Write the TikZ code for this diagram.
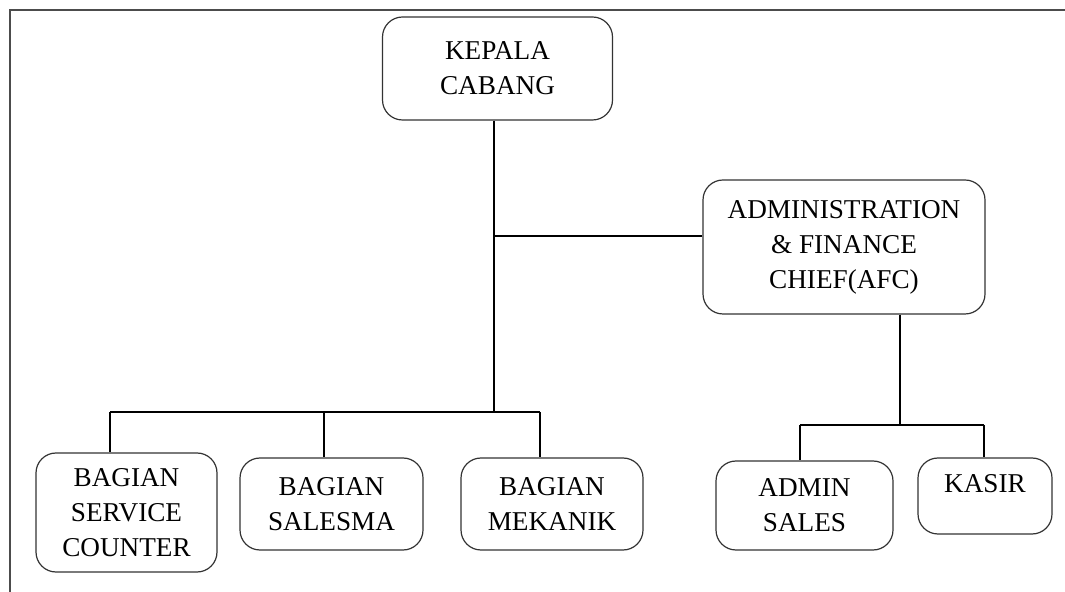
\documentclass[tikz,border=0pt]{standalone}
\usepackage{fontspec}
\setmainfont{Liberation Serif}
\usetikzlibrary{calc, positioning}

\begin{document}
\begin{tikzpicture}[
    x=0.5pt, y=-0.5pt,
    line width=0.6pt,
    font=\fontsize{13.6}{17.5}\selectfont,
    unitbox/.style={draw=black!80, rounded corners=10pt, align=center, inner sep=0pt}
]

    % Page size and frame
    \useasboundingbox (0, 0) rectangle (1065, 592);
    \draw[black!70] (10, 592) -- (10, 10) -- (1065, 10);

    % Top level
    \node[unitbox, minimum width=115pt, minimum height=51.5pt] (kepala) at (497.5, 68.5) {KEPALA\\CABANG};
    \node[unitbox, minimum width=141pt, minimum height=67pt] (afc) at (844, 247) {ADMINISTRATION\\\& FINANCE\\CHIEF(AFC)};

    % Bottom level (left group)
    \node[unitbox, minimum width=90.5pt, minimum height=59.5pt] (service) at (126.5, 512.5) {BAGIAN\\SERVICE\\COUNTER};
    \node[unitbox, minimum width=91.5pt, minimum height=46pt] (salesma) at (331.5, 504) {BAGIAN\\SALESMA};
    \node[unitbox, minimum width=91pt, minimum height=46pt] (mekanik) at (552, 504) {BAGIAN\\MEKANIK};

    % Bottom level (right group)
    \node[unitbox, minimum width=88.5pt, minimum height=44.5pt] (admin) at (804.5, 505.5) {ADMIN\\SALES};
    \node[unitbox, minimum width=67pt, minimum height=38pt] (kasir) at (985, 496) {KASIR\\[-5pt]\mbox{}};

    % Junction points
    \coordinate (trunk) at (494, 412);
    \coordinate (side) at (494, 236);
    \coordinate (dropA) at (110, 412);
    \coordinate (dropB) at (324, 412);
    \coordinate (dropC) at (540, 412);
    \coordinate (afcdrop) at (900, 425);
    \coordinate (dropD) at (800, 425);
    \coordinate (dropE) at (984, 425);

    % Connectors
    \draw (kepala.south -| trunk) -- (trunk);
    \draw (side) -- (side -| afc.west);
    \draw (dropA) -- (dropC);
    \draw (dropA) -- (dropA |- service.north);
    \draw (dropB) -- (dropB |- salesma.north);
    \draw (dropC) -- (dropC |- mekanik.north);

    \draw (afc.south -| afcdrop) -- (afcdrop);
    \draw (dropD) -- (dropE);
    \draw (dropD) -- (dropD |- admin.north);
    \draw (dropE) -- (dropE |- kasir.north);

\end{tikzpicture}
\end{document}
